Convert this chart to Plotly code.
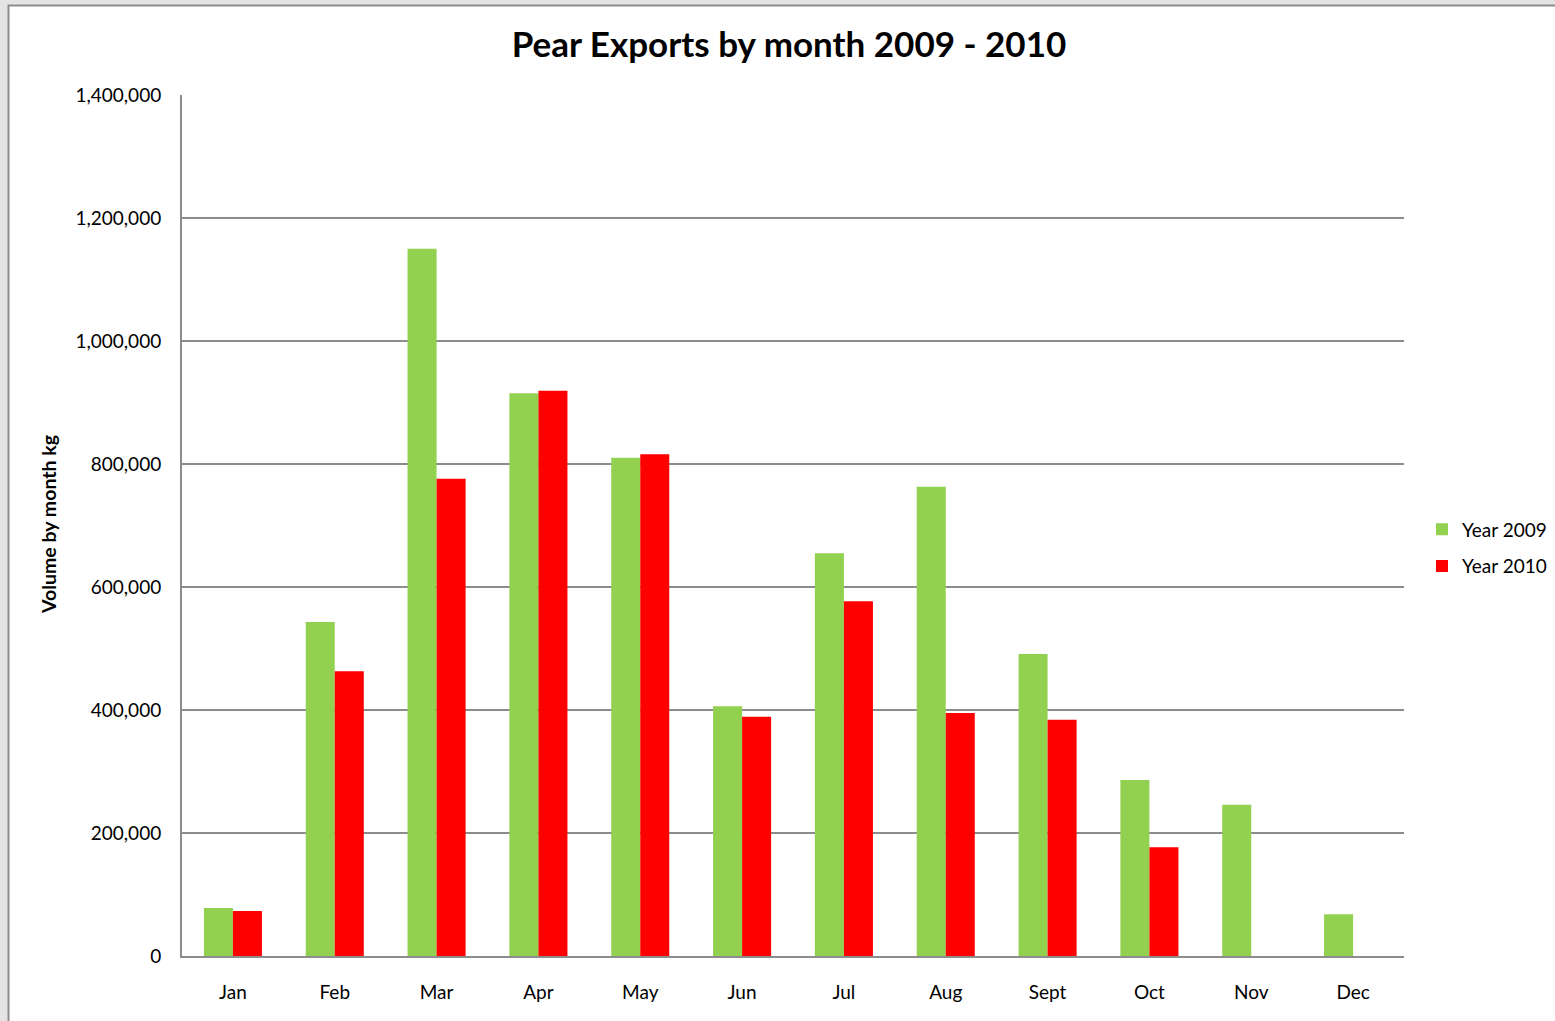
import plotly.graph_objects as go

months = ["Jan", "Feb", "Mar", "Apr", "May", "Jun", "Jul", "Aug", "Sept", "Oct", "Nov", "Dec"]
year_2009 = [78000, 543000, 1150000, 915000, 810000, 406000, 655000, 763000, 491000, 286000, 246000, 68000]
year_2010 = [73000, 463000, 776000, 919000, 816000, 389000, 577000, 395000, 384000, 177000, None, None]
y_ticks = [0, 200000, 400000, 600000, 800000, 1000000, 1200000, 1400000]
y_tick_labels = ["0", "200,000", "400,000", "600,000", "800,000", "1,000,000", "1,200,000", "1,400,000"]

FONT = "Lato, 'Open Sans', sans-serif"

fig = go.Figure()
fig.add_trace(go.Bar(x=months, y=year_2009, name="Year 2009", legendgroup="a",
                     marker=dict(color="#92D050", line=dict(width=0))))
fig.add_trace(go.Bar(x=months, y=year_2010, name="Year 2010", legendgroup="b",
                     marker=dict(color="#FF0000", line=dict(width=0))))

# outer frame (grey background with white chart area)
fig.add_shape(type="rect", xref="paper", yref="paper",
              x0=(8.5 - 182) / 1222, x1=(1600 - 182) / 1222,
              y0=(956 - 1060) / 861, y1=(956 - 5.5) / 861,
              fillcolor="white", line=dict(color="#8c8c8c", width=2), layer="below")

fig.add_annotation(text="<b>Volume by month kg</b>", textangle=-90,
                   xref="paper", yref="paper", x=(48 - 182) / 1222, y=(956 - 525) / 861,
                   xanchor="center", yanchor="middle", showarrow=False,
                   font=dict(family=FONT, size=19.5, color="black"))

fig.update_layout(
    width=1555, height=1021,
    margin=dict(l=182, r=151, t=95, b=65, autoexpand=False),
    paper_bgcolor="#e4e4e4",
    plot_bgcolor="white",
    barmode="group",
    bargap=0.43,
    bargroupgap=0,
    title=dict(text="<b>Pear Exports by month 2009 - 2010</b>",
               x=789 / 1555, xanchor="center", y=1 - 45 / 1021, yanchor="middle",
               font=dict(family=FONT, size=35, color="black")),
    font=dict(family=FONT, size=19, color="black"),
    legend=dict(x=(1422 - 182) / 1222, xanchor="left", y=(956 - 548) / 861, yanchor="middle",
                font=dict(family=FONT, size=19, color="black"),
                tracegroupgap=9, traceorder="grouped", itemsizing="constant",
                itemwidth=30, bgcolor="rgba(0,0,0,0)"),
    showlegend=True,
)

fig.update_xaxes(showline=True, linecolor="#8c8c8c", linewidth=2, showgrid=False,
                 ticks="", ticklabelstandoff=18,
                 tickfont=dict(family=FONT, size=19, color="black"))
fig.update_yaxes(range=[0, 1400000], tickvals=y_ticks, ticktext=y_tick_labels,
                 showline=True, linecolor="#8c8c8c", linewidth=2,
                 showgrid=True, gridcolor="#8c8c8c", gridwidth=1.5,
                 zeroline=False, ticks="", ticklabelstandoff=15,
                 tickfont=dict(family=FONT, size=19, color="black"))

fig.write_html("out.html", config={"displayModeBar": False},
               post_script="document.body.style.margin='0';document.body.style.overflow='hidden';")
